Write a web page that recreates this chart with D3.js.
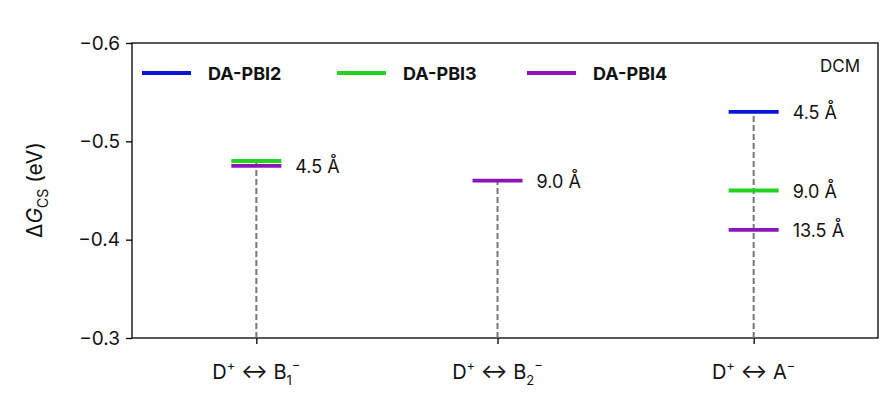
<!DOCTYPE html>
<html><head><meta charset="utf-8">
<script src="https://cdn.jsdelivr.net/npm/d3@7"></script>
<style>body{margin:0;background:#fff}text{font-family:Inter,"Noto Sans",sans-serif;fill:#111}</style>
</head><body><svg id="c" width="880" height="406"></svg>
<script>
const categories = ["B1","B2","A"];
const catPos = [0, 0.97, 2];
const seriesNames = ["DA-PBI2","DA-PBI3","DA-PBI4"];
const seriesColors = ["#0a14d8","#22d322","#8a16b8"];
// [category index, series index, value, label]
const levels = [
  [0,1,-0.48,""],[0,2,-0.475,"4.5 Å"],
  [1,2,-0.46,"9.0 Å"],
  [2,0,-0.53,"4.5 Å"],[2,1,-0.45,"9.0 Å"],[2,2,-0.41,"13.5 Å"]
];
const yTicks = [-0.6,-0.5,-0.4,-0.3];

const svg = d3.select("#c");
const L=132,R=878,T=43,B=338;
const x = d3.scaleLinear().domain([-0.5,2.5]).range([L,R]);
const y = d3.scaleLinear().domain([-0.3,-0.6]).range([B,T]);

svg.append("rect").attr("x",L).attr("y",T).attr("width",R-L).attr("height",B-T).attr("fill","none").attr("stroke","#000").attr("stroke-width",1.3);

const ya = svg.append("g").attr("transform",`translate(${L},0)`).call(d3.axisLeft(y).tickValues(yTicks).tickFormat(d=>d3.format(".1f")(d).replace("-","−")).tickSize(6));
ya.select(".domain").remove();
ya.selectAll("line").attr("stroke-width",1.3);
ya.selectAll("text").style("font-size","19px").attr("dx","-3");
const xa = svg.append("g").attr("transform",`translate(0,${B})`).call(d3.axisBottom(x).tickValues(catPos).tickFormat("").tickSize(6));
xa.select(".domain").remove();
xa.selectAll("line").attr("stroke-width",1.3);

const xl = [["B","1"],["B","2"],["A",""]];
catPos.forEach((p,i)=>{
  const t = svg.append("text").attr("x",x(p)).attr("y",379).attr("text-anchor","middle").style("font-size","20px");
  t.append("tspan").text("D");
  t.append("tspan").text("+").attr("dy",-9).style("font-size","13px");
  t.append("tspan").text(" ↔ "+xl[i][0]).attr("dy",9);
  if (xl[i][1]) t.append("tspan").text(xl[i][1]).attr("dy",6).style("font-size","13px");
  t.append("tspan").text("−").attr("dy",xl[i][1]?-15:-9).style("font-size","13px");
});

// dashed stems
categories.forEach((c,i)=>{
  const vals = levels.filter(l=>l[0]===i).map(l=>l[2]);
  svg.append("line").attr("x1",x(catPos[i])).attr("x2",x(catPos[i])).attr("y1",y(-0.3)).attr("y2",y(d3.min(vals)))
    .attr("stroke","#777").attr("stroke-width",2).attr("stroke-dasharray","6,3");
});
levels.forEach(l=>{
  const cx = x(catPos[l[0]]);
  svg.append("line").attr("x1",cx-25).attr("x2",cx+25).attr("y1",y(l[2])).attr("y2",y(l[2]))
    .attr("stroke",seriesColors[l[1]]).attr("stroke-width",3.8);
  if (l[3]) svg.append("text").attr("x",cx+39).attr("y",y(l[2])+7).style("font-size","18px").text(l[3]);
});

// legend
const lx=[142,337,527];
seriesNames.forEach((n,i)=>{
  svg.append("line").attr("x1",lx[i]).attr("x2",lx[i]+49).attr("y1",73).attr("y2",73).attr("stroke",seriesColors[i]).attr("stroke-width",3.8);
  svg.append("text").attr("x",lx[i]+66).attr("y",80).style("font-size","18px").style("font-weight","bold").text(n);
});
svg.append("text").attr("x",860).attr("y",72).attr("text-anchor","end").style("font-size","17px").text("DCM");

// y label
const yl = svg.append("text").attr("transform","translate(42,190) rotate(-90)").attr("text-anchor","middle").style("font-size","21px");
yl.append("tspan").text("Δ");
yl.append("tspan").text("G").style("font-style","italic");
yl.append("tspan").text("CS").attr("dy",6).style("font-size","14px");
yl.append("tspan").text(" (eV)").attr("dy",-6);
</script></body></html>
